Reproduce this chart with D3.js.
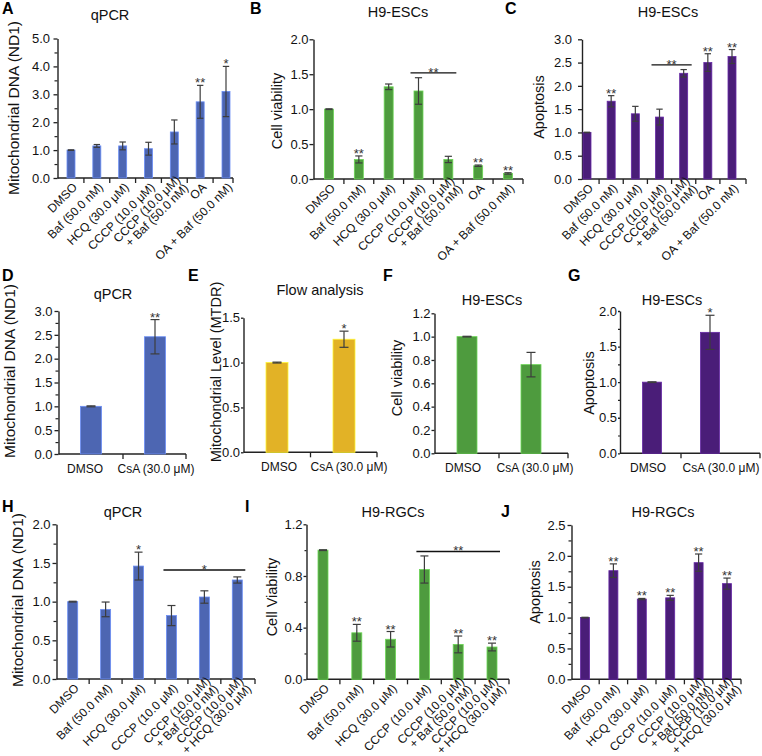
<!DOCTYPE html>
<html><head><meta charset="utf-8">
<script src="https://cdn.jsdelivr.net/npm/d3@7"></script>
<style>body{margin:0;background:#fff}svg{display:block;font-family:Arial,"Liberation Sans",Helvetica,sans-serif}</style>
</head><body><svg id="c" width="762" height="756"></svg>
<script>
// ---------- categories ----------
const catsESC = ["DMSO","Baf (50.0 nM)","HCQ (30.0 μM)","CCCP (10.0 μM)","CCCP (10.0 μM)\n+ Baf (50.0 nM)","OA","OA + Baf (50.0 nM)"];
const catsCsA = ["DMSO","CsA (30.0 μM)"];
const catsRGC = ["DMSO","Baf (50.0 nM)","HCQ (30.0 μM)","CCCP (10.0 μM)","CCCP (10.0 μM)\n+ Baf (50.0 nM)","CCCP (10.0 μM)\n+ HCQ (30.0 μM)"];

// ---------- values (mean) / error half-widths / significance ----------
const valA = [1.00,1.15,1.15,1.05,1.65,2.73,3.10];
const errA = [0.01,0.05,0.14,0.23,0.43,0.59,0.90];
const sigA = ["","","","","","**","*"];

const valB = [1.00,0.28,1.32,1.26,0.28,0.19,0.08];
const errB = [0.005,0.05,0.04,0.19,0.045,0.01,0.01];
const sigB = ["","**","","","","**","**"];

const valC = [1.00,1.67,1.40,1.33,2.27,2.50,2.63];
const errC = [0.005,0.12,0.16,0.17,0.08,0.19,0.15];
const sigC = ["","**","","","","**","**"];

const valD = [1.00,2.46];
const errD = [0.01,0.36];
const sigD = ["","**"];

const valE = [1.00,1.26];
const errE = [0.005,0.09];
const sigE = ["","*"];

const valF = [1.00,0.76];
const errF = [0.003,0.105];
const sigF = ["",""];

const valG = [1.00,1.70];
const errG = [0.005,0.24];
const sigG = ["","*"];

const valH = [1.00,0.90,1.46,0.82,1.06,1.28];
const errH = [0.005,0.095,0.18,0.13,0.08,0.04];
const sigH = ["","","*","","",""];

const valI = [1.00,0.36,0.31,0.85,0.27,0.25];
const errI = [0.003,0.065,0.06,0.105,0.065,0.03];
const sigI = ["","**","**","","**","**"];

const valJ = [1.00,1.76,1.30,1.32,1.89,1.55];
const errJ = [0.005,0.11,0.01,0.04,0.14,0.09];
const sigJ = ["","**","**","**","**","**"];

// brackets: [fromIndex, toIndex, yValue, label]
const brkB = [3,4,1.52,"**"];
const brkC = [3,4,2.45,"**"];
const brkH = [3,5,1.41,"*"];
const brkI = [3,5,0.99,"**"];

// y ticks
const ticksA = [0,1,2,3,4,5];
const ticksB = [0,0.5,1,1.5,2];
const ticksC = [0,0.5,1,1.5,2,2.5,3];
const ticksD = [0,0.5,1,1.5,2,2.5,3];
const ticksE = [0,0.5,1,1.5];
const ticksF = [0,0.2,0.4,0.6,0.8,1.0,1.2];
const ticksG = [0,0.5,1,1.5,2];
const ticksH = [0,0.5,1,1.5,2];
const ticksI = [0,0.4,0.8,1.2];
const ticksJ = [0,0.5,1,1.5,2,2.5];

const BLUE = "#4d66b2", GREEN = "#4e9b3e", PURPLE = "#4a1d78", GOLD = "#e2b226";

const svg = d3.select("#c");

const panels = [
 {L:"A",lx:2,ly:14, title:"qPCR",tx:110,ty:19.5, yTitle:"Mitochondrial DNA (ND1)",ytx:13,yty:108,ytfs:15.5,gap:7.5,
  cats:catsESC,vals:valA,errs:errA,sig:sigA,ticks:ticksA,minor:0.5,color:BLUE,
  ax0:57.5,ax1:233,y0:178,yTop:38.5,c0:71,c1:226,bw:8,rot:true},
 {L:"B",lx:250,ly:14, title:"H9-ESCs",tx:398,ty:17, yTitle:"Cell viability",ytx:277,yty:111,ytfs:14.5,gap:5,
  cats:catsESC,vals:valB,errs:errB,sig:sigB,ticks:ticksB,minor:null,color:GREEN,brk:brkB,
  ax0:313.5,ax1:523,y0:179,yTop:39.3,c0:329,c1:508,bw:9,rot:true},
 {L:"C",lx:505,ly:14, title:"H9-ESCs",tx:668,ty:17, yTitle:"Apoptosis",ytx:539,yty:107,ytfs:14.5,gap:10,
  cats:catsESC,vals:valC,errs:errC,sig:sigC,ticks:ticksC,minor:null,color:PURPLE,brk:brkC,
  ax0:582,ax1:746,y0:179,yTop:39.3,c0:587,c1:732,bw:8,rot:true},
 {L:"D",lx:2,ly:281, title:"qPCR",tx:113,ty:299, yTitle:"Mitochondrial DNA (ND1)",ytx:9,yty:371,ytfs:15.5,gap:6,
  cats:catsCsA,vals:valD,errs:errD,sig:sigD,ticks:ticksD,minor:0.25,color:BLUE,lblDx:[-6,1],
  ax0:58.5,ax1:186,y0:454,yTop:311,c0:91,c1:155,bw:21,rot:false},
 {L:"E",lx:188,ly:281, title:"Flow analysis",tx:320,ty:295, yTitle:"Mitochondrial Level (MTDR)",ytx:216,yty:372,ytfs:14.5,gap:3.5,
  cats:catsCsA,vals:valE,errs:errE,sig:sigE,ticks:ticksE,minor:null,color:GOLD,lblDx:[2,5],
  ax0:243.5,ax1:377,y0:452.3,yTop:317.7,c0:277,c1:344,bw:22,rot:false},
 {L:"F",lx:383,ly:281, title:"H9-ESCs",tx:492,ty:305, yTitle:"Cell viability",ytx:397,yty:378,ytfs:14.5,gap:4,
  cats:catsCsA,vals:valF,errs:errF,sig:sigF,ticks:ticksF,minor:null,color:GREEN,lblDx:[-4,4],
  ax0:434.5,ax1:568,y0:453.3,yTop:313.3,c0:467,c1:531,bw:20,rot:false},
 {L:"G",lx:568,ly:281, title:"H9-ESCs",tx:672,ty:305, yTitle:"Apoptosis",ytx:589,yty:383,ytfs:14.5,gap:3,
  cats:catsCsA,vals:valG,errs:errG,sig:sigG,ticks:ticksG,minor:0.25,color:PURPLE,lblDx:[-4,11],
  ax0:620,ax1:760,y0:453.3,yTop:311,c0:652,c1:710,bw:19,rot:false},
 {L:"H",lx:2,ly:512, title:"qPCR",tx:123,ty:517, yTitle:"Mitochondrial DNA (ND1)",ytx:17,yty:600,ytfs:15.5,gap:6,
  cats:catsRGC,vals:valH,errs:errH,sig:sigH,ticks:ticksH,minor:0.25,color:BLUE,brk:brkH,
  ax0:56.5,ax1:255,y0:679,yTop:524.3,c0:72.7,c1:237.3,bw:10,rot:true},
 {L:"I",lx:245,ly:512, title:"H9-RGCs",tx:393,ty:517, yTitle:"Cell Viability",ytx:272,yty:597,ytfs:14.5,gap:4,
  cats:catsRGC,vals:valI,errs:errI,sig:sigI,ticks:ticksI,minor:0.2,color:GREEN,brk:brkI,
  ax0:306.5,ax1:509,y0:679.3,yTop:524.3,c0:323,c1:492,bw:10,rot:true},
 {L:"J",lx:501,ly:517, title:"H9-RGCs",tx:663,ty:517, yTitle:"Apoptosis",ytx:535,yty:592,ytfs:14.5,gap:6,
  cats:catsRGC,vals:valJ,errs:errJ,sig:sigJ,ticks:ticksJ,minor:0.25,color:PURPLE,
  ax0:571.5,ax1:741,y0:679.3,yTop:525,c0:585,c1:727,bw:9,rot:true}
];

const AX = "#222", ERR = "#3d3d3d";

panels.forEach(p => {
  const g = svg.append("g");
  const yMax = p.ticks[p.ticks.length-1];
  const y = d3.scaleLinear().domain([0,yMax]).range([p.y0,p.yTop]);
  const x = d3.scalePoint().domain(p.cats).range([p.c0,p.c1]);
  const fmt = d3.format(".1f");
  const tsz = Math.min(4, p.gap-1), tpad = p.gap - tsz;

  // panel letter
  g.append("text").attr("x",p.lx).attr("y",p.ly).attr("font-size",16).attr("font-weight","bold").attr("fill","#000").text(p.L);
  // title
  g.append("text").attr("x",p.tx).attr("y",p.ty).attr("text-anchor","middle").attr("font-size",14.5).attr("fill","#111").text(p.title);
  // y title
  g.append("text").attr("transform",`translate(${p.ytx},${p.yty}) rotate(-90)`).attr("text-anchor","middle")
    .attr("dominant-baseline","central").attr("font-size",p.ytfs).attr("fill","#111").text(p.yTitle);

  // minor ticks
  if (p.minor) {
    const minorVals = d3.range(0, yMax+1e-9, p.minor).filter(v => !p.ticks.some(t => Math.abs(t-v)<1e-9));
    const mg = g.append("g").attr("transform",`translate(${p.ax0},0)`)
      .call(d3.axisLeft(y).tickValues(minorVals).tickSize(Math.max(2,tsz-1)).tickFormat(""));
    mg.select(".domain").remove();
    mg.selectAll("line").attr("stroke",AX).attr("stroke-width",1.2);
  }
  // y axis
  const ya = g.append("g").attr("transform",`translate(${p.ax0},0)`)
    .call(d3.axisLeft(y).tickValues(p.ticks).tickFormat(fmt).tickSize(tsz).tickSizeOuter(0).tickPadding(tpad));
  ya.select(".domain").attr("stroke",AX).attr("stroke-width",1.4);
  ya.selectAll(".tick line").attr("stroke",AX).attr("stroke-width",1.3);
  ya.selectAll(".tick text").attr("font-size",13).attr("font-family","Arial, Liberation Sans, sans-serif").attr("fill","#111");

  // x axis line + boundary ticks
  g.append("line").attr("x1",p.ax0).attr("x2",p.ax1).attr("y1",p.y0).attr("y2",p.y0).attr("stroke",AX).attr("stroke-width",1.4);
  const pos = p.cats.map(c => x(c));
  const bounds = [];
  for (let i=0;i<pos.length-1;i++) bounds.push((pos[i]+pos[i+1])/2);
  bounds.push(p.ax1);
  g.selectAll(null).data(bounds).join("line")
    .attr("x1",d=>d).attr("x2",d=>d).attr("y1",p.y0).attr("y2",p.y0+5).attr("stroke",AX).attr("stroke-width",1.3);

  // bars
  g.selectAll(null).data(p.cats).join("rect")
    .attr("x",c=>x(c)-p.bw/2).attr("width",p.bw)
    .attr("y",(c,i)=>y(p.vals[i])).attr("height",(c,i)=>p.y0-y(p.vals[i]))
    .attr("fill",p.color).attr("stroke",d3.color(p.color).brighter(0.9)).attr("stroke-width",0.8);

  // error bars
  const cap = Math.min(p.bw*0.8, 9);
  p.cats.forEach((c,i) => {
    const cx = x(c), lo = y(p.vals[i]-p.errs[i]), hi = y(p.vals[i]+p.errs[i]);
    g.append("line").attr("x1",cx).attr("x2",cx).attr("y1",lo).attr("y2",hi).attr("stroke",ERR).attr("stroke-width",1.2);
    [lo,hi].forEach(yy => g.append("line").attr("x1",cx-cap/2).attr("x2",cx+cap/2).attr("y1",yy).attr("y2",yy).attr("stroke",ERR).attr("stroke-width",1.2));
    if (p.sig[i]) {
      g.append("text").attr("x",cx).attr("y",hi+2).attr("text-anchor","middle").attr("font-size",13).attr("fill","#333").text(p.sig[i]);
    }
  });

  // bracket
  if (p.brk) {
    const [a,b,v,lab] = p.brk;
    const x1 = x(p.cats[a])-8, x2 = x(p.cats[b])+8, yy = y(v);
    g.append("line").attr("x1",x1).attr("x2",x2).attr("y1",yy).attr("y2",yy).attr("stroke","#111").attr("stroke-width",1.4);
    g.append("text").attr("x",(x1+x2)/2).attr("y",yy+4).attr("text-anchor","middle").attr("font-size",13).attr("fill","#333").text(lab);
  }

  // x labels
  if (p.rot) {
    p.cats.forEach(c => {
      const lines = c.split("\n");
      const t = g.append("text").attr("transform",`translate(${x(c)+4},${p.y0+7}) rotate(-45)`)
        .attr("text-anchor","end").attr("font-size",12).attr("fill","#111");
      lines.forEach((ln,k) => {
        t.append("tspan").attr("x", lines.length>1 ? 5 : 0)
          .attr("dy", k===0 ? (lines.length>1 ? "-0.1em" : "0.35em") : "0.95em").text(ln);
      });
    });
  } else {
    g.selectAll(null).data(p.cats).join("text")
      .attr("x",(c,i)=>x(c)+p.lblDx[i]).attr("y",p.y0+19).attr("text-anchor","middle").attr("font-size",12).attr("fill","#111").text(c=>c);
  }
});
</script></body></html>
